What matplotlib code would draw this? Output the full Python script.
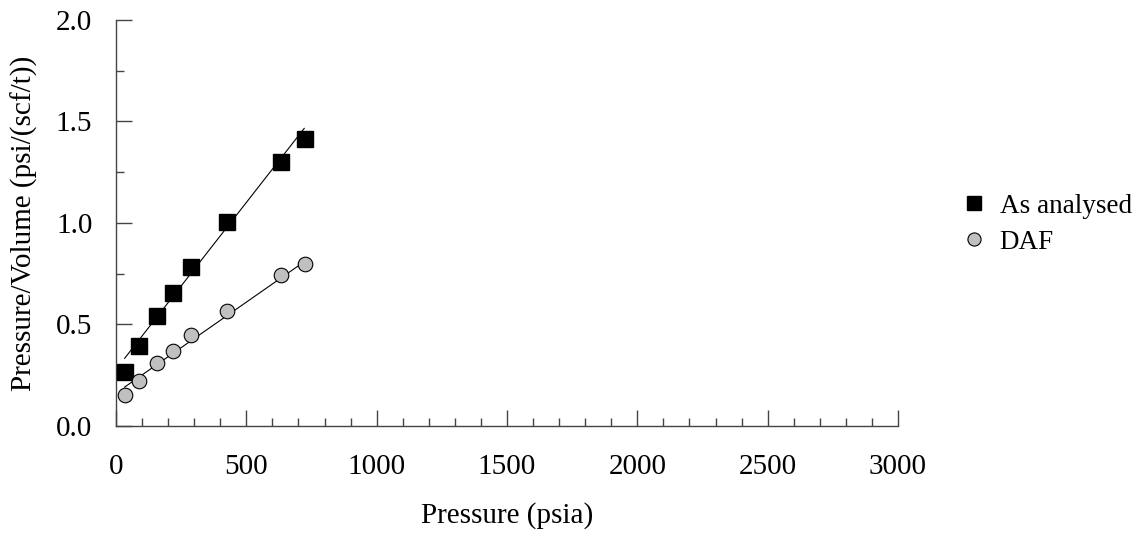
# Pressure/Volume vs pressure for the coal sample, with linear fits

import numpy as np
import matplotlib
matplotlib.use('Agg')
import matplotlib.pyplot as plt
from matplotlib.ticker import MultipleLocator

plt.rcParams['font.family'] = ['Liberation Serif', 'DejaVu Serif']

# Measured points
pressure = [35, 89, 158, 220, 289, 426, 633, 724]
pv_as_analysed = [0.264, 0.395, 0.542, 0.654, 0.782, 1.006, 1.300, 1.416]
pv_daf = [0.153, 0.222, 0.310, 0.369, 0.447, 0.565, 0.742, 0.800]

# Fitted straight lines (slope, intercept)
fit_as_analysed = [0.001644, 0.279]
fit_daf = [0.000896, 0.162]

FS = 21

fig = plt.figure(figsize=(11.42, 5.33), dpi=100)
ax = fig.add_axes([0.1016, 0.2008, 0.6847, 0.7617])

xfit = np.array([pressure[0] - 2, pressure[-1] - 2])
for m, b in (fit_as_analysed, fit_daf):
    ax.plot(xfit, m * xfit + b, color='black', lw=0.8, zorder=2)

ax.plot(pressure, pv_as_analysed, linestyle='none', marker='s', ms=11,
        mfc='black', mec='black', label='As analysed', zorder=3)
ax.plot(pressure, pv_daf, linestyle='none', marker='o', ms=10.5,
        mfc='#c0c0c0', mec='black', mew=0.8, label='DAF', zorder=3)

ax.set_xlim(0, 3000)
ax.set_ylim(0, 2.0)
ax.xaxis.set_major_locator(MultipleLocator(500))
ax.xaxis.set_minor_locator(MultipleLocator(100))
ax.yaxis.set_major_locator(MultipleLocator(0.5))
ax.yaxis.set_minor_locator(MultipleLocator(0.25))
ax.yaxis.set_major_formatter(plt.FuncFormatter(lambda v, _: f'{v:.1f}'))

for s in ('top', 'right'):
    ax.spines[s].set_visible(False)
for s in ('left', 'bottom'):
    ax.spines[s].set_color('#444444')
    ax.spines[s].set_linewidth(1.0)

ax.tick_params(which='major', direction='in', length=11.5, width=1.0,
               color='#444444', labelsize=FS)
ax.tick_params(which='minor', direction='in', length=5.8, width=1.0,
               color='#444444')
ax.tick_params(axis='x', which='major', pad=20)
ax.tick_params(axis='y', which='major', pad=17)

ax.set_xlabel('Pressure (psia)', fontsize=FS, labelpad=16)
ax.set_ylabel('Pressure/Volume (psi/(scf/t))', fontsize=FS, labelpad=13)

fig.legend(loc='center left', bbox_to_anchor=(0.822, 0.579), frameon=False,
           fontsize=19.5, markerscale=0.9, handlelength=0.8, handletextpad=0.55,
           labelspacing=0.4)

fig.savefig('out.png', dpi=100)
